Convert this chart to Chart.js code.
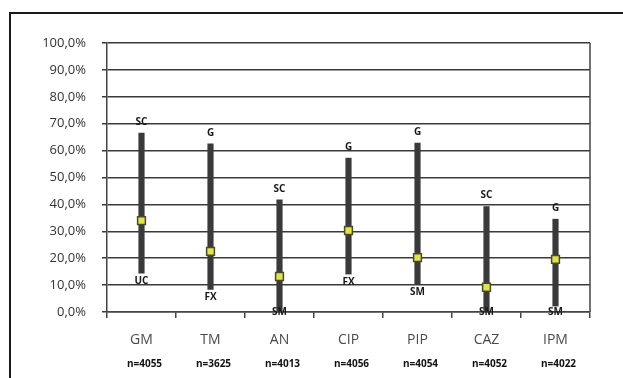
<!DOCTYPE html>
<html>
<head>
<meta charset="utf-8">
<script src="https://cdn.jsdelivr.net/npm/chart.js@4"></script>
<style>
  body { margin: 0; background: #fff; }
  #wrap { position: relative; width: 623px; height: 378px; overflow: hidden; }
  #frame { position: absolute; left: 9px; top: 12px; width: 700px; height: 500px;
           border-left: 2px solid #1a1a1a; border-top: 2px solid #1a1a1a; }
  canvas { position: absolute; left: 0; top: 0; }
</style>
</head>
<body>
<div id="wrap">
  <div id="frame"></div>
  <canvas id="chart" width="623" height="378"></canvas>
</div>
<script>
// categories and sample sizes
const categories = ["GM", "TM", "AN", "CIP", "PIP", "CAZ", "IPM"];
const counts = ["n=4055", "n=3625", "n=4013", "n=4056", "n=4054", "n=4052", "n=4022"];

// range per antibiotic (%)
const lows = [14.4, 8.4, 0.5, 14.1, 10.4, 0, 2.2];
const highs = [66.5, 62.5, 41.7, 57.2, 62.8, 39.2, 34.5];
const means = [34.0, 22.5, 13.2, 30.3, 20.2, 9.2, 19.6];

// which group sits at the top / bottom of each range
const topLabels = ["SC", "G", "SC", "G", "G", "SC", "G"];
const bottomLabels = ["UC", "FX", "SM", "FX", "SM", "SM", "SM"];

const yTicks = [0, 10, 20, 30, 40, 50, 60, 70, 80, 90, 100];

// draws the plot border, range labels and n= labels
const extras = {
  id: "extras",
  beforeDatasetsDraw(chart) {
    const { ctx, chartArea } = chart;
    ctx.save();
    ctx.strokeStyle = "#444";
    ctx.lineWidth = 1.5;
    ctx.beginPath();
    ctx.moveTo(chartArea.right, chartArea.top);
    ctx.lineTo(chartArea.right, chartArea.bottom);
    ctx.stroke();
    ctx.restore();
  },
  afterDatasetsDraw(chart) {
    const { ctx, chartArea, scales } = chart;
    const x = scales.x, y = scales.y;
    ctx.save();
    ctx.fillStyle = "#1a1a1a";
    ctx.font = "bold 10px 'Open Sans'";
    ctx.textAlign = "center";
    categories.forEach((c, i) => {
      const px = x.getPixelForValue(i);
      ctx.textBaseline = "bottom";
      ctx.fillText(topLabels[i], px, y.getPixelForValue(highs[i]) - 6);
      ctx.textBaseline = "top";
      const by = Math.min(y.getPixelForValue(lows[i]) + 3, chartArea.bottom - 5);
      ctx.fillText(bottomLabels[i], px, by);
    });
    ctx.font = "bold 10px 'Open Sans'";
    ctx.fillStyle = "#111";
    ctx.textBaseline = "middle";
    counts.forEach((n, i) => {
      ctx.fillText(n, x.getPixelForValue(i) + 3, chartArea.bottom + 52);
    });
    ctx.restore();
  }
};

new Chart(document.getElementById("chart"), {
  type: "bar",
  data: {
    labels: categories,
    datasets: [
      {
        type: "line",
        data: means,
        showLine: false,
        pointStyle: "rect",
        pointRadius: 5.5,
        pointBackgroundColor: "#e2e44c",
        pointBorderColor: "#4a4a2a",
        pointBorderWidth: 1.5,
        order: 0
      },
      {
        data: lows.map((l, i) => [l, highs[i]]),
        backgroundColor: "#3a3a3a",
        barThickness: 5.5,
        order: 1
      }
    ]
  },
  options: {
    responsive: false,
    animation: false,
    devicePixelRatio: 1,
    layout: { padding: { left: 0, right: 33, top: 43, bottom: 0 } },
    plugins: {
      legend: { display: false },
      tooltip: { enabled: false }
    },
    scales: {
      x: {
        offset: true,
        grid: {
          offset: true,
          drawOnChartArea: false,
          color: "#444",
          tickLength: 6,
          lineWidth: 1.5
        },
        border: { color: "#444", width: 1.5 },
        ticks: {
          color: "#4a4a4a",
          font: { family: "'Open Sans'", size: 14 },
          padding: 14,
          maxRotation: 0
        },
        afterFit(scale) { scale.height = 66; }
      },
      y: {
        min: 0,
        max: 100,
        afterBuildTicks(scale) { scale.ticks = yTicks.map(v => ({ value: v })); },
        grid: { color: "#3a3a3a", lineWidth: 1.5, tickLength: 5 },
        border: { color: "#444", width: 1.5 },
        ticks: {
          color: "#333",
          font: { family: "'Open Sans'", size: 13 },
          padding: 16,
          callback: v => v.toFixed(1).replace(".", ",") + "%"
        },
        afterFit(scale) { scale.width = 107; }
      }
    }
  },
  plugins: [extras]
});
</script>
</body>
</html>
